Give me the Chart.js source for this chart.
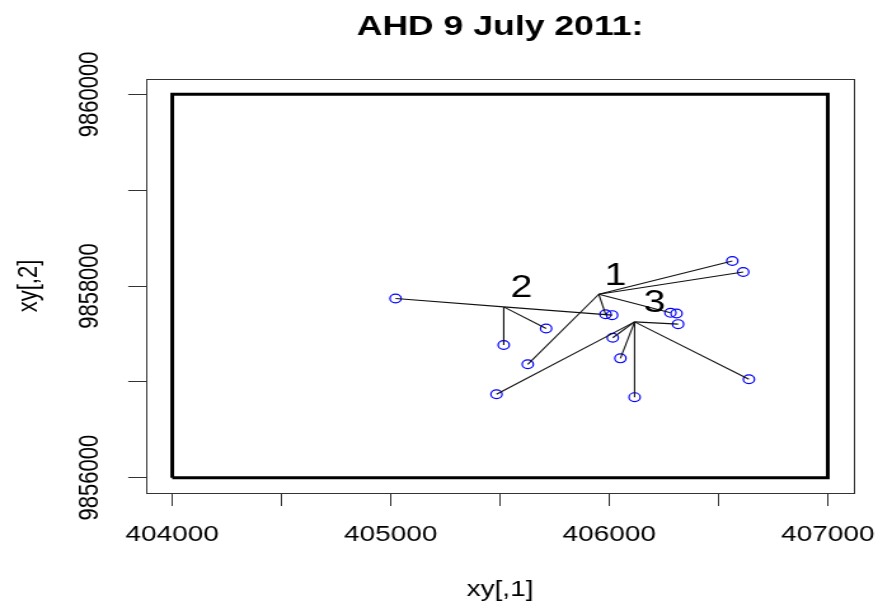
<!DOCTYPE html>
<html>
<head>
<meta charset="utf-8">
<script src="https://cdn.jsdelivr.net/npm/chart.js@4"></script>
<style>
  html, body { margin: 0; padding: 0; background: #ffffff; overflow: hidden; }
  #wrap { width: 691px; height: 601px; transform: scaleX(1.27063); transform-origin: 0 0; }
</style>
</head>
<body>
<div id="wrap"><canvas id="c" width="691" height="601"></canvas></div>
<script>
// ---- data ----
const chartTitle = 'AHD 9 July 2011:';
const xTitle = 'xy[,1]';
const yTitle = 'xy[,2]';
const xTickValues = [404000, 404500, 405000, 405500, 406000, 406500, 407000];
const xTickLabels = [404000, 405000, 406000, 407000];
const yTickValues = [9856000, 9857000, 9858000, 9859000, 9860000];
const yTickLabels = [9856000, 9858000, 9860000];
const xRange = [403880, 407120];
const yRange = [9855840, 9860160];
const frameX = [404000, 407000];
const frameY = [9856000, 9860000];

const centerLabels = ['1', '2', '3'];
const centerX = [405952, 405517, 406116];
const centerY = [9857914, 9857782, 9857626];
const labelX = [406029, 405598, 406207];
const labelY = [9858102, 9857977, 9857821];

const pointX = [405022, 405517, 405711, 405627, 405484, 405983, 406013, 406563, 406613, 406280, 406308, 406315, 406016, 406051, 406116, 406639];
const pointY = [9857870, 9857384, 9857557, 9857183, 9856871, 9857706, 9857696, 9858261, 9858146, 9857720, 9857713, 9857602, 9857460, 9857245, 9856840, 9857027];
const pointCenter = [1, 1, 1, 0, 2, 0, 1, 0, 0, 0, -1, 2, 2, 2, 2, 2];

// ---- build ----
const FONT = "'Liberation Sans', Arial, sans-serif";
const datasets = [];

datasets.push({
  label: 'frame',
  data: [
    {x: frameX[0], y: frameY[0]}, {x: frameX[1], y: frameY[0]},
    {x: frameX[1], y: frameY[1]}, {x: frameX[0], y: frameY[1]},
    {x: frameX[0], y: frameY[0]}
  ],
  showLine: true, borderColor: '#000000', borderWidth: 3, pointRadius: 0,
  borderJoinStyle: 'miter', fill: false
});

pointX.forEach((px, i) => {
  const c = pointCenter[i];
  if (c < 0) return;
  datasets.push({
    label: 'seg' + i,
    data: [{x: centerX[c], y: centerY[c]}, {x: px, y: pointY[i]}],
    showLine: true, borderColor: '#111111', borderWidth: 1.1, pointRadius: 0, fill: false
  });
});

datasets.push({
  label: 'points',
  data: pointX.map((x, i) => ({x: x, y: pointY[i]})),
  showLine: false, pointStyle: 'circle', pointRadius: 4.4, pointBorderWidth: 1.2,
  pointBorderColor: '#0000ff', pointBackgroundColor: 'rgba(0,0,0,0)'
});

// measure y label width for centering rotated labels
const mctx = document.createElement('canvas').getContext('2d');
mctx.font = "22px " + FONT;
const yLabelW = mctx.measureText(String(yTickLabels[0])).width;
const Y_AXIS_W = 114.9;
const Y_TICK_LEN = 14;
const Y_LABEL_CX = 71.2;
const yPad = Y_AXIS_W - Y_TICK_LEN - yLabelW / 2 - Y_LABEL_CX;

const boxPlugin = {
  id: 'rbox',
  afterDraw(chart) {
    const a = chart.chartArea, ctx = chart.ctx;
    ctx.save();
    ctx.strokeStyle = '#333333';
    ctx.lineWidth = 1;
    ctx.strokeRect(Math.round(a.left) + 0.5, Math.round(a.top) + 0.5,
      Math.round(a.right - a.left), Math.round(a.bottom - a.top));
    // main title, centred over the plot region
    ctx.fillStyle = '#000000';
    ctx.font = 'bold 28px ' + FONT;
    ctx.textAlign = 'center';
    ctx.textBaseline = 'middle';
    ctx.fillText(chartTitle, (a.left + a.right) / 2, 27);
    ctx.restore();
  }
};

const labelPlugin = {
  id: 'clusterLabels',
  afterDatasetsDraw(chart) {
    const ctx = chart.ctx, xs = chart.scales.x, ys = chart.scales.y;
    ctx.save();
    ctx.fillStyle = '#000000';
    ctx.font = '31px ' + FONT;
    ctx.textAlign = 'center';
    ctx.textBaseline = 'middle';
    centerLabels.forEach((t, i) => {
      ctx.fillText(t, xs.getPixelForValue(labelX[i]), ys.getPixelForValue(labelY[i]));
    });
    ctx.restore();
  }
};

new Chart(document.getElementById('c'), {
  type: 'scatter',
  data: { datasets: datasets },
  plugins: [boxPlugin, labelPlugin],
  options: {
    responsive: false,
    devicePixelRatio: 1,
    animation: false,
    layout: { padding: { left: 0, right: 18.9, top: 79, bottom: 0 } },
    plugins: {
      legend: { display: false },
      tooltip: { enabled: false },
      title: { display: false }
    },
    scales: {
      x: {
        type: 'linear', min: xRange[0], max: xRange[1],
        afterBuildTicks: (s) => { s.ticks = xTickValues.map(v => ({value: v})); },
        afterFit: (s) => { s.height = 108; s.paddingLeft = 0; s.paddingRight = 0; },
        grid: { drawOnChartArea: false, drawTicks: true, tickLength: 13, color: '#333333', lineWidth: 1 },
        border: { display: false },
        ticks: {
          autoSkip: false, maxRotation: 0, minRotation: 0, padding: 15.5, color: '#000000',
          font: { family: FONT, size: 22, lineHeight: 1.2 },
          callback: (v) => xTickLabels.includes(v) ? String(v) : ''
        },
        title: {
          display: true, text: xTitle, color: '#000000',
          font: { family: FONT, size: 22, lineHeight: 1 }, padding: { top: 0, bottom: 0 }
        }
      },
      y: {
        type: 'linear', min: yRange[0], max: yRange[1],
        afterBuildTicks: (s) => { s.ticks = yTickValues.map(v => ({value: v})); },
        afterFit: (s) => { s.width = Y_AXIS_W; s.paddingTop = 0; s.paddingBottom = 0; },
        grid: { drawOnChartArea: false, drawTicks: true, tickLength: Y_TICK_LEN, color: '#333333', lineWidth: 1 },
        border: { display: false },
        ticks: {
          autoSkip: false, minRotation: 90, maxRotation: 90, crossAlign: 'center',
          padding: yPad, color: '#000000',
          font: { family: FONT, size: 22, lineHeight: 1.2 },
          callback: (v) => yTickLabels.includes(v) ? String(v) : ''
        },
        title: {
          display: true, text: yTitle, color: '#000000',
          font: { family: FONT, size: 22, lineHeight: 1 }, padding: { top: 11.8, bottom: 0 }
        }
      }
    }
  }
});
</script>
</body>
</html>
